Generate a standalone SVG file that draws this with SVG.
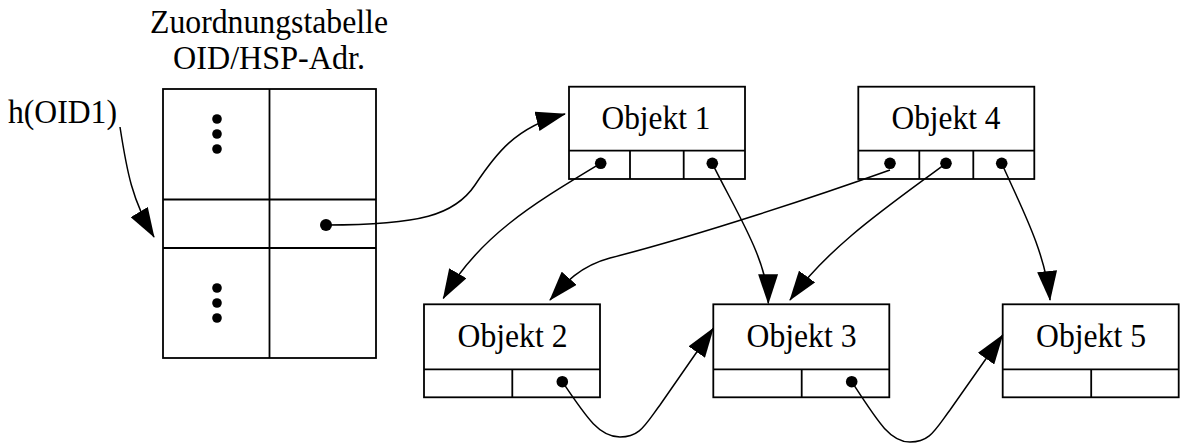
<svg xmlns="http://www.w3.org/2000/svg" width="1182" height="443" viewBox="0 0 1182 443">
  <style>
    .box { fill: #fff; stroke: #000; stroke-width: 1.8; }
    .div { fill: none; stroke: #000; stroke-width: 1.8; }
    .lbl { font-family: "Liberation Serif", "Times New Roman", serif; font-size: 33px; fill: #000; text-anchor: middle; }
    .ptr { fill: #000; }
    .conn { fill: none; stroke: #000; stroke-width: 1.5; marker-end: url(#head); }
  </style>
  <defs>
    <marker id="head" markerUnits="userSpaceOnUse" viewBox="0 0 30 20" markerWidth="30" markerHeight="20" refX="29" refY="10" orient="auto">
      <path d="M0,0 L30,10 L0,20 Z" fill="#000"/>
    </marker>
  </defs>
  <rect width="1182" height="443" fill="#fff"/>

  <!-- hash table -->
  <g id="table">
    <text class="lbl" x="269" y="33" textLength="238" lengthAdjust="spacingAndGlyphs">Zuordnungstabelle</text>
    <text class="lbl" x="269" y="69" textLength="192" lengthAdjust="spacingAndGlyphs">OID/HSP-Adr.</text>
    <rect class="box" x="163" y="89" width="213" height="269"/>
    <path class="div" d="M269.5,89 V358 M163,199.5 H376 M163,248 H376"/>
    <circle class="ptr" cx="217" cy="119" r="4.8"/>
    <circle class="ptr" cx="217" cy="134" r="4.8"/>
    <circle class="ptr" cx="217" cy="149" r="4.8"/>
    <circle class="ptr" cx="217" cy="288" r="4.8"/>
    <circle class="ptr" cx="217" cy="303" r="4.8"/>
    <circle class="ptr" cx="217" cy="318" r="4.8"/>
    <circle class="ptr" cx="326" cy="225" r="6"/>
  </g>

  <g id="hash-label">
    <text class="lbl" x="62.5" y="123" textLength="109" lengthAdjust="spacingAndGlyphs">h(OID1)</text>
  </g>

  <g id="obj1">
    <rect class="box" x="569" y="86.7" width="176" height="92.3"/>
    <path class="div" d="M569,150.7 H745 M630,150.7 V179 M683.7,150.7 V179"/>
    <text class="lbl" x="656" y="128.5" textLength="109" lengthAdjust="spacingAndGlyphs">Objekt 1</text>
    <circle class="ptr" cx="600.7" cy="163.3" r="5.8"/>
    <circle class="ptr" cx="712.3" cy="163.3" r="5.8"/>
  </g>

  <g id="obj4">
    <rect class="box" x="858.3" y="86.7" width="176" height="92.3"/>
    <path class="div" d="M858.3,150.7 H1034.3 M919.3,150.7 V179 M973.3,150.7 V179"/>
    <text class="lbl" x="946" y="128.5" textLength="109" lengthAdjust="spacingAndGlyphs">Objekt 4</text>
    <circle class="ptr" cx="890" cy="163.3" r="5.8"/>
    <circle class="ptr" cx="946" cy="163.3" r="5.8"/>
    <circle class="ptr" cx="1001.7" cy="163.3" r="5.8"/>
  </g>

  <g id="obj2">
    <rect class="box" x="424" y="304.3" width="176" height="93"/>
    <path class="div" d="M424,369.3 H600 M512.3,369.3 V397.3"/>
    <text class="lbl" x="512.5" y="346.7" textLength="110" lengthAdjust="spacingAndGlyphs">Objekt 2</text>
    <circle class="ptr" cx="562.3" cy="381.7" r="5.8"/>
  </g>

  <g id="obj3">
    <rect class="box" x="713.3" y="304.3" width="176" height="93"/>
    <path class="div" d="M713.3,369.3 H889.3 M801.7,369.3 V397.3"/>
    <text class="lbl" x="801.5" y="346.7" textLength="110" lengthAdjust="spacingAndGlyphs">Objekt 3</text>
    <circle class="ptr" cx="851.7" cy="381.7" r="5.8"/>
  </g>

  <g id="obj5">
    <rect class="box" x="1002.7" y="304.3" width="176" height="93"/>
    <path class="div" d="M1002.7,369.3 H1178.7 M1091.2,369.3 V397.3"/>
    <text class="lbl" x="1091" y="346.7" textLength="110" lengthAdjust="spacingAndGlyphs">Objekt 5</text>
  </g>

  <!-- pointer connectors -->
  <g id="connectors">
    <path class="conn" d="M120,127 C127,172 132,200 154,237"/>
    <path class="conn" d="M326,225 C420,225 455,215 475,185 C495,155 515,127 565,114"/>
    <path class="conn" d="M600.7,163.3 C535,203 480,235 443.3,298.3"/>
    <path class="conn" d="M712.3,163.3 C735,210 768,260 768.3,303.3"/>
    <path class="conn" d="M890,170 C820,195 700,235 610,258 C580,266 565,283 550,300"/>
    <path class="conn" d="M946,163.3 C890,205 830,245 790,300"/>
    <path class="conn" d="M1001.7,163.3 C1020,205 1045,250 1050,300"/>
    <path class="conn" d="M562.3,381.7 C588,420 600,437 620,437 C640,437 645,425 660,405 L713.3,328.3"/>
    <path class="conn" d="M851.7,381.7 C878,422 890,442 910,442 C930,442 935,430 950,410 L1002.7,335"/>
  </g>
</svg>
